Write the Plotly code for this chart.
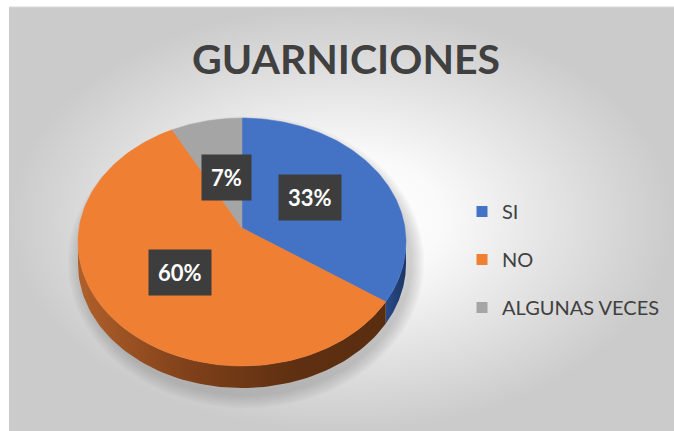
import numpy as np
import plotly.graph_objects as go

# ---- data ----
categories = ["SI", "NO", "ALGUNAS VECES"]
values = [33, 60, 7]
label_texts = ["33%", "60%", "7%"]
title_text = "GUARNICIONES"

# ---- style / layout constants ----
W, H = 674, 431
top_colors = ["#4472C4", "#EF7F33", "#A5A5A5"]
side_scales = [
    [[0, "#2a4b88"], [1, "#1c3664"]],
    [[0, "#b0602a"], [0.35, "#80411a"], [0.7, "#5f3011"], [1, "#5a2d10"]],
    [[0, "#707070"], [1, "#505050"]],
]
CX, CY = 242, 242          # ellipse centre (px)
RX, RY = 164, 124          # ellipse radii (px)
APX, APY = 242, 228        # apex of slices (px)
DEPTH = 22
label_r = [0.48, 0.52, 0.42]
text_col = "#404040"


def ell(theta_deg, dy=0.0):
    t = np.radians(theta_deg)
    return CX + RX * np.sin(t), CY - RY * np.cos(t) + dy


fig = go.Figure()

# background panel with radial gradient
fig.add_trace(go.Scatter(
    x=[9, 674, 674, 9, 9], y=[7, 7, 431, 431, 7], mode="lines",
    fill="toself", line=dict(width=0), hoverinfo="skip", showlegend=False,
    fillgradient=dict(type="radial",
                      colorscale=[[0, "#ffffff"], [0.3, "#fafafa"], [1, "#cbcbcb"]]),
))
fig.add_trace(go.Scatter(x=[9, 674], y=[7, 7], mode="lines",
                         line=dict(color="#d9d9d9", width=1),
                         hoverinfo="skip", showlegend=False))

# soft shadow
tt = np.linspace(0, 360, 181)
for k in range(7):
    grow = 14 - 2 * k
    sx = CX + 4 + (RX + grow) * np.sin(np.radians(tt))
    sy = CY + 20 - (RY + 8 + grow) * np.cos(np.radians(tt))
    fig.add_trace(go.Scatter(x=sx, y=sy, mode="lines", fill="toself",
                             fillcolor="rgba(90,90,90,0.045)", line=dict(width=0),
                             hoverinfo="skip", showlegend=False))

# slice angles
total = float(sum(values))
bounds = [0.0]
for v in values:
    bounds.append(bounds[-1] + 360.0 * v / total)

# sides (front half only)
for i in range(len(values)):
    a0, a1 = max(bounds[i], 90.0), min(bounds[i + 1], 270.0)
    if a1 <= a0:
        continue
    th = np.linspace(a0, a1, 80)
    xt, yt = ell(th)
    xb, yb = ell(th[::-1], DEPTH)
    fig.add_trace(go.Scatter(
        x=np.concatenate([xt, xb, xt[:1]]), y=np.concatenate([yt, yb, yt[:1]]),
        mode="lines", fill="toself", line=dict(width=0),
        fillgradient=dict(type="horizontal", colorscale=side_scales[i]),
        hoverinfo="skip", showlegend=False))

# top faces
for i in range(len(values)):
    th = np.linspace(bounds[i], bounds[i + 1], 120)
    xa, ya = ell(th)
    fig.add_trace(go.Scatter(
        x=np.concatenate([[APX], xa, [APX]]), y=np.concatenate([[APY], ya, [APY]]),
        mode="lines", fill="toself", fillcolor=top_colors[i],
        line=dict(width=0.5, color=top_colors[i]),
        hoverinfo="skip", showlegend=False))

# legend entries
for i, c in enumerate(categories):
    fig.add_trace(go.Scatter(
        x=[None], y=[None], mode="markers", name=c, legendgroup=c,
        marker=dict(symbol="square", size=11, color=top_colors[i])))

# data labels
for i in range(len(values)):
    mid = np.radians((bounds[i] + bounds[i + 1]) / 2)
    lx = APX + RX * label_r[i] * np.sin(mid)
    ly = APY - RY * label_r[i] * np.cos(mid)
    fig.add_annotation(x=lx, y=ly, text=label_texts[i], showarrow=False,
                       font=dict(family="Lato", size=22, color="white", weight="bold"),
                       bgcolor="#3d3d3d", borderpad=9)

fig.update_layout(
    width=W, height=H, margin=dict(l=0, r=0, t=0, b=0),
    paper_bgcolor="white", plot_bgcolor="rgba(0,0,0,0)",
    title=dict(text=title_text, x=346 / W, xanchor="center", y=1 - 60 / H, yanchor="middle",
               font=dict(family="Lato", size=41, color=text_col, weight="bold")),
    xaxis=dict(range=[0, W], visible=False, fixedrange=True),
    yaxis=dict(range=[H, 0], visible=False, fixedrange=True),
    legend=dict(x=462 / W, xanchor="left", y=1 - 192 / H, yanchor="top",
                font=dict(family="Lato", size=20, color=text_col),
                bgcolor="rgba(0,0,0,0)", traceorder="grouped", tracegroupgap=19,
                itemwidth=30),
    showlegend=True,
)

fig.write_html("out.html", config={"displayModeBar": False},
               post_script="document.body.style.margin='0';document.body.style.overflow='hidden';")
